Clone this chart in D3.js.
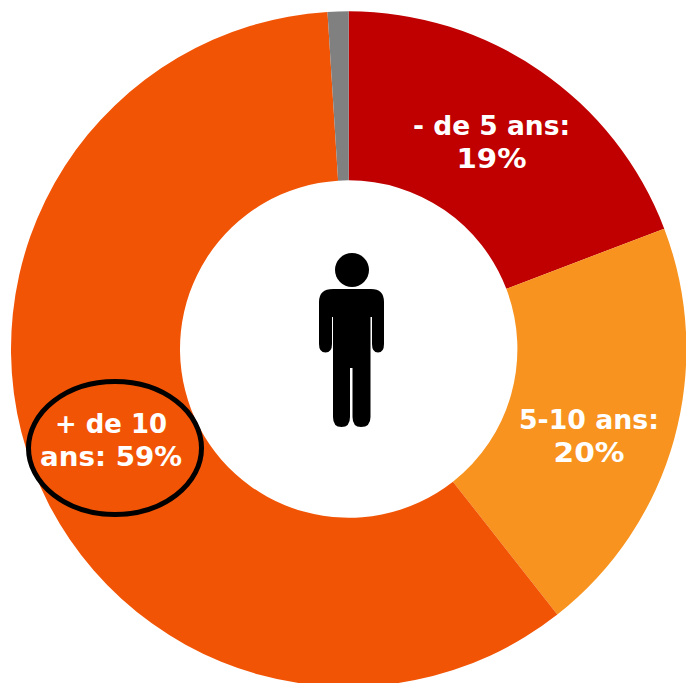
<!DOCTYPE html>
<html><head><meta charset="utf-8">
<script src="https://cdn.jsdelivr.net/npm/d3@7"></script>
<style>html,body{margin:0;padding:0;background:#fff;overflow:hidden}svg{display:block}</style>
</head><body><svg id="c" width="686" height="683"></svg>
<script>
const categories = ["- de 5 ans", "5-10 ans", "+ de 10 ans", "Autre"];
const values = [19.2, 20.2, 59.6, 1.0];
const colors = ["#c00000", "#f7931e", "#f25405", "#808080"];
const labelLines = [["- de 5 ans:", "19%"], ["5-10 ans:", "20%"], ["+ de 10", "ans: 59%"], []];
const labelWidths = [[157, 70], [140, 71], [112, 142], []];
const labelPos = [[491.5,134.5],[589,429],[111,433],null];

const svg = d3.select("#c");
const g = svg.append("g").attr("transform", "translate(348.7,349)");
const pie = d3.pie().sort(null).value(d => d)(values);
const arc = d3.arc().innerRadius(168.7).outerRadius(337.7);
g.selectAll("path").data(pie).join("path")
  .attr("d", arc)
  .attr("fill", (d, i) => colors[i])
  .attr("stroke", "none");

const person = svg.append("g").attr("fill", "#000");
person.append("circle").attr("cx", 352).attr("cy", 270).attr("r", 17);
person.append("path").attr("d",
  "M333,289 H371 Q384,289 384,302 V344 Q384,352.5 378,352.5 Q372,352.5 372,344 V317 H370.5 V417 Q370.5,427 361,427 Q352.5,427 352.5,417 V368 H350 V417 Q350,427 341.5,427 Q333,427 333,417 V317 H332 V344 Q332,352.5 325.5,352.5 Q319,352.5 319,344 V302 Q319,289 333,289 Z");

const labels = svg.append("g")
  .attr("font-family", "'DejaVu Sans', Verdana, sans-serif")
  .attr("font-weight", "700").attr("font-size", 27)
  .attr("fill", "#fff").attr("text-anchor", "middle");
labelLines.forEach((lines, i) => {
  lines.forEach((t, j) => {
    labels.append("text")
      .attr("x", labelPos[i][0])
      .attr("y", labelPos[i][1] + j * 33)
      .attr("textLength", labelWidths[i][j])
      .attr("lengthAdjust", "spacingAndGlyphs")
      .text(t);
  });
});

svg.append("ellipse").attr("cx", 115).attr("cy", 448).attr("rx", 86.5).attr("ry", 66.5)
  .attr("fill", "none").attr("stroke", "#000").attr("stroke-width", 5);
</script></body></html>
